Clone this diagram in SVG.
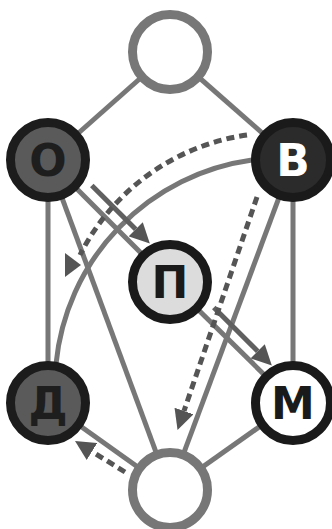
<svg xmlns="http://www.w3.org/2000/svg" width="332" height="529" viewBox="0 0 332 529">
<style>
.e{stroke:#777;stroke-width:5;fill:none}
.a{stroke:#606060;stroke-width:5;fill:none}
.d{stroke:#555;stroke-width:5;fill:none;stroke-dasharray:8 5}
.ring{stroke-width:9}
.lbl{font-family:"DejaVu Sans",sans-serif;font-weight:bold;font-size:44px;text-anchor:middle}
</style>
<defs>
<marker id="ah" markerUnits="userSpaceOnUse" markerWidth="20" markerHeight="20" refX="0" refY="9" orient="auto" viewBox="0 0 18 18">
<path d="M0,0 L18,9 L0,18 z" fill="#555"/>
</marker>
</defs>
<rect width="332" height="529" fill="#fff"/>
<g id="connectors">
<line class="e" x1="170" y1="52" x2="48" y2="160"/>
<line class="e" x1="170" y1="52" x2="293" y2="160"/>
<line class="e" x1="48" y1="160" x2="48" y2="403"/>
<line class="e" x1="293" y1="160" x2="293" y2="403"/>
<line class="e" x1="48" y1="160" x2="170" y2="282"/>
<line class="e" x1="170" y1="282" x2="293" y2="403"/>
<line class="e" x1="48" y1="160" x2="170" y2="490"/>
<line class="e" x1="293" y1="160" x2="170" y2="490"/>
<line class="e" x1="48" y1="403" x2="170" y2="490"/>
<line class="e" x1="293" y1="403" x2="170" y2="490"/>
<path class="e" d="M252,160 A228,228 0 0 0 56,364"/>
<line class="a" x1="91.8" y1="185.4" x2="135.7" y2="229.3" marker-end="url(#ah)"/>
<line class="a" x1="213.8" y1="307.4" x2="257.7" y2="351.3" marker-end="url(#ah)"/>
<path class="d" d="M247,135 A222,222 0 0 0 80,255"/>
<polygon points="65,253 65,277 81,265" fill="#555"/>
<line class="d" x1="257" y1="197" x2="184" y2="411" marker-end="url(#ah)"/>
<line class="d" x1="125" y1="472" x2="92" y2="451.5" marker-end="url(#ah)"/>
</g>
<g id="top"><circle class="ring" cx="170" cy="52" r="37.5" fill="#fff" stroke="#777"/></g>
<g id="O"><circle class="ring" cx="48" cy="160" r="37.5" fill="#5a5a5a" stroke="#1c1c1c"/><text class="lbl" x="48" y="176" fill="#1e1e1e">О</text></g>
<g id="B"><circle class="ring" cx="293" cy="160" r="37.5" fill="#2b2b2b" stroke="#1a1a1a"/><text class="lbl" x="293" y="176" fill="#fff">В</text></g>
<g id="P"><circle class="ring" cx="170" cy="282" r="37.5" fill="#dcdcdc" stroke="#1a1a1a"/><text class="lbl" x="170" y="298" fill="#1a1a1a">П</text></g>
<g id="D"><circle class="ring" cx="48" cy="403" r="37.5" fill="#5a5a5a" stroke="#1c1c1c"/><text class="lbl" x="48" y="419" fill="#1e1e1e">Д</text></g>
<g id="M"><circle class="ring" cx="293" cy="403" r="37.5" fill="#fff" stroke="#1a1a1a"/><text class="lbl" x="293" y="419" fill="#1a1a1a">М</text></g>
<g id="bottom"><circle class="ring" cx="170" cy="490" r="37.5" fill="#fff" stroke="#777"/></g>
</svg>
